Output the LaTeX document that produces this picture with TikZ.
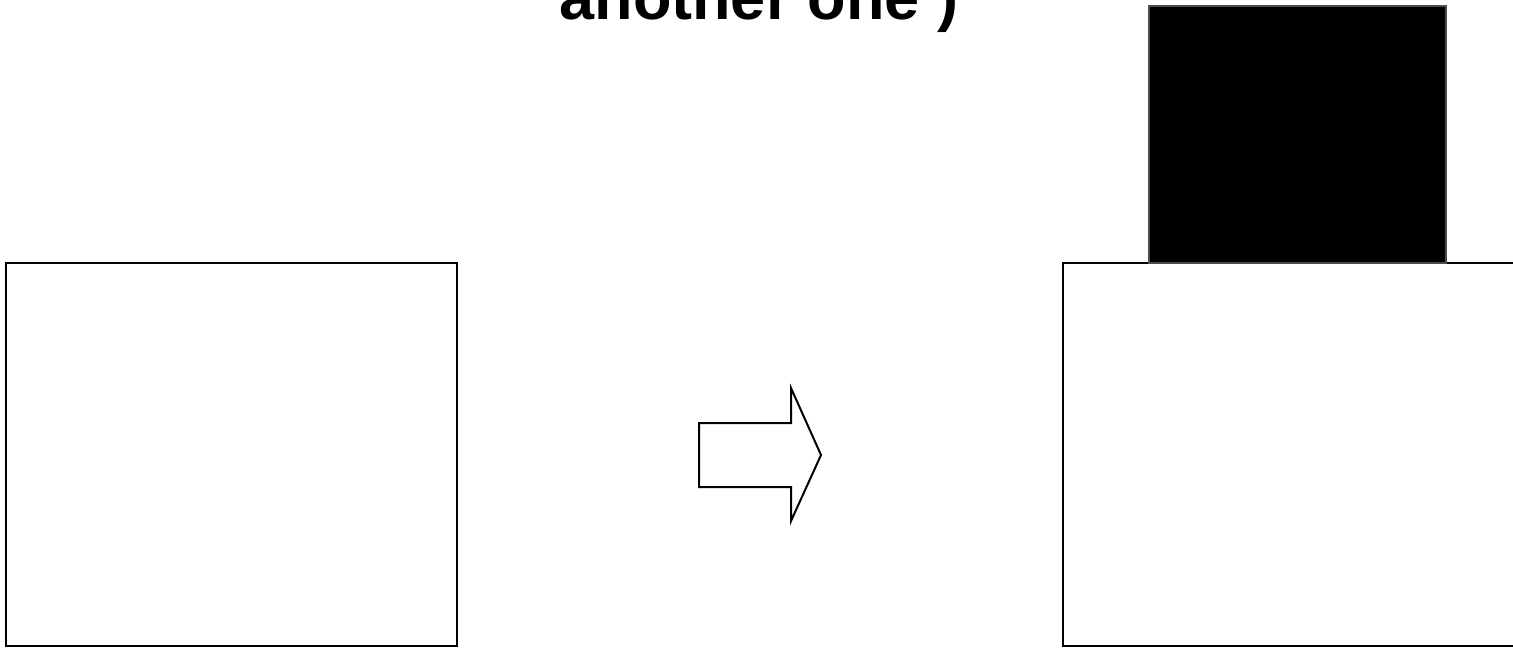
\documentclass[tikz,border=0pt]{standalone}
\usepackage{fontspec}
\setmainfont{Liberation Sans}
\begin{document}
\begin{tikzpicture}[x=0.5pt, y=-0.5pt, line width=1pt]

% frame
\useasboundingbox (0,0) rectangle (1513,647);
\clip (0,0) rectangle (1513,647);

% parameters
\def\top{263}
\def\bot{646}

% caption
\node[font=\bfseries\fontsize{31.5}{36}\selectfont, anchor=base, inner sep=0pt] (caption) at (759,20) {another one )};

% left box
\draw (6,\top) rectangle (457,\bot);

% right box with block on top
\draw (1063,\top) rectangle (1530,\bot);
\filldraw[fill=black, draw=black!70, line width=0.6pt] (1149,6) rectangle (1446,\top);

% arrow
\draw[line join=miter] (699,423) -- (791,423) -- (791,388) -- (821,455) -- (791,521) -- (791,487) -- (699,487) -- cycle;

\end{tikzpicture}
\end{document}
